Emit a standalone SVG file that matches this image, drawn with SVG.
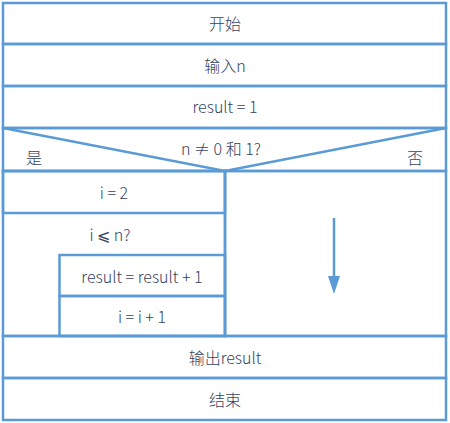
<svg xmlns="http://www.w3.org/2000/svg" width="450" height="423" viewBox="0 0 450 423">
<defs>
<style>
.b{fill:none;stroke:#5b9bd5;stroke-width:2.5}
.t{font-family:"Noto Sans CJK SC","Noto Sans",sans-serif;font-size:16px;font-weight:300;fill:#34435e;text-anchor:middle;dominant-baseline:central}
</style>
<marker id="ah" viewBox="0 0 18 12" refX="0" refY="6" markerWidth="18" markerHeight="12" orient="auto" markerUnits="userSpaceOnUse">
<path d="M0,0L18,6L0,12z" fill="#5b9bd5"/>
</marker>
</defs>
<rect width="450" height="423" fill="#fff"/>
<g id="start"><rect class="b" x="3" y="3" width="443" height="41"/><text class="t" x="225" y="23">开始</text></g>
<g id="input"><rect class="b" x="3" y="44" width="443" height="42"/><text class="t" x="225" y="65">输入n</text></g>
<g id="init"><rect class="b" x="3" y="86" width="443" height="42"/><text class="t" x="225" y="106">result = 1</text></g>
<g id="cond"><rect class="b" x="3" y="128" width="443" height="43"/>
<polyline class="b" points="3,128 225,171 446,128"/>
<text class="t" x="221" y="148">n ≠ 0 和 1?</text>
<text class="t" x="34" y="157">是</text>
<text class="t" x="415" y="157">否</text></g>
<g id="yes-branch">
<rect class="b" x="3" y="171" width="222" height="165"/>
<g id="seti"><rect class="b" x="3" y="171" width="222" height="42"/><text class="t" x="114" y="192">i = 2</text></g>
<g id="loop"><text class="t" x="110" y="234">i ⩽ n?</text></g>
<g id="body1"><rect class="b" x="59.5" y="255" width="165.5" height="41"/><text class="t" x="142" y="276">result = result + 1</text></g>
<g id="body2"><rect class="b" x="59.5" y="296" width="165.5" height="40"/><text class="t" x="142" y="316">i = i + 1</text></g>
</g>
<g id="no-branch"><rect class="b" x="225" y="171" width="221" height="165"/></g>
<g id="output"><rect class="b" x="3" y="336" width="443" height="42"/><text class="t" x="225" y="357">输出result</text></g>
<g id="end"><rect class="b" x="3" y="378" width="443" height="42"/><text class="t" x="225" y="399">结束</text></g>
<g id="connectors">
<line x1="334" y1="218" x2="334" y2="276" stroke="#5b9bd5" stroke-width="2.5" marker-end="url(#ah)"/>
</g>
</svg>
